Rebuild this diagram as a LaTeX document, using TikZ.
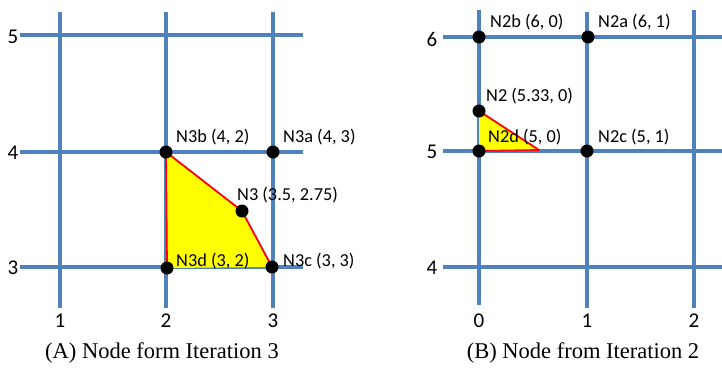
\documentclass[tikz,border=0pt]{standalone}
\usepackage{fontspec}
\setmainfont{Liberation Serif}
\newfontfamily\labelfont{Carlito}
\usepackage{tikz}
\usetikzlibrary{positioning,calc}
\definecolor{gridblue}{HTML}{4F81BD}
\definecolor{cellyellow}{HTML}{FFFF00}
\definecolor{celledge}{HTML}{FF0000}

\begin{document}
\begin{tikzpicture}[
  x=1pt, y=-1pt,
  gridline/.style={draw=gridblue, line width=3.2pt},
  nodedot/.style={circle, fill=black, minimum size=13pt, inner sep=0pt},
  ptlabel/.style={font=\labelfont\fontsize{18.3}{19}\selectfont, inner sep=0pt, anchor=west},
  ticklabel/.style={font=\labelfont\fontsize{21}{23}\selectfont, inner sep=0pt},
  caption/.style={font=\fontsize{22.5}{25}\selectfont, inner sep=0pt},
  cellfill/.style={fill=cellyellow},
  celloutline/.style={draw=celledge, line width=1.8pt, line join=round}
]
  \useasboundingbox (0,0) rectangle (722,373);

  % (A) iteration 3 grid
  \draw[gridline] (60,12) -- (60,308);
  \draw[gridline] (166,12) -- (166,308);
  \draw[gridline] (273,12) -- (273,308);
  \draw[gridline] (20,35) -- (303,35);
  \draw[gridline] (20,152) -- (303,152);
  \draw[gridline] (20,267) -- (303,267);
  \node[ticklabel] (ya5) at (13,37) {5};
  \node[ticklabel] (ya4) at (13,153) {4};
  \node[ticklabel] (ya3) at (13,268) {3};
  \node[ticklabel] (xa1) at (60,321) {1};
  \node[ticklabel] (xa2) at (166,321) {2};
  \node[ticklabel] (xa3) at (273,321) {3};

  \coordinate (p3b) at (166,152);
  \coordinate (p3a) at (273,152);
  \coordinate (p3) at (242,211);
  \coordinate (p3c) at (272,267);
  \coordinate (p3d) at (167,268);
  \fill[cellfill] (p3b) -- (p3) -- (p3c) -- (p3d) -- cycle;
  \draw[celloutline] (p3d) -- (p3b) -- (p3) -- (p3c);
  \node[nodedot] (n3b) at (p3b) {};
  \node[nodedot] (n3a) at (p3a) {};
  \node[nodedot] (n3) at (p3) {};
  \node[nodedot] (n3c) at (p3c) {};
  \node[nodedot] (n3d) at (p3d) {};
  \node[ptlabel] (l3b) at ([shift={(10,-15)}]n3b) {N3b (4, 2)};
  \node[ptlabel] (l3a) at ([shift={(10,-15)}]n3a) {N3a (4, 3)};
  \node[ptlabel] (l3) at ([shift={(-5,-16)}]n3) {N3 (3.5, 2.75)};
  \node[ptlabel] (l3d) at ([shift={(9,-7)}]n3d) {N3d (3, 2)};
  \node[ptlabel] (l3c) at ([shift={(11,-6)}]n3c) {N3c (3, 3)};
  \node[caption] (capa) at (162,353) {(A) Node form Iteration 3};

  % (B) iteration 2 grid
  \draw[gridline] (479,10) -- (479,305);
  \draw[gridline] (587,12) -- (587,308);
  \draw[gridline] (694,10) -- (694,308);
  \draw[gridline] (443,37) -- (722,37);
  \draw[gridline] (443,151) -- (722,151);
  \draw[gridline] (443,267) -- (722,267);
  \node[ticklabel] (yb6) at (432,39) {6};
  \node[ticklabel] (yb5) at (432,152) {5};
  \node[ticklabel] (yb4) at (432,268) {4};
  \node[ticklabel] (xb0) at (479,321) {0};
  \node[ticklabel] (xb1) at (587,321) {1};
  \node[ticklabel] (xb2) at (694,321) {2};

  \coordinate (p2b) at (479,37);
  \coordinate (p2a) at (588,37);
  \coordinate (p2) at (479,111);
  \coordinate (p2d) at (479,151);
  \coordinate (p2c) at (587,151);
  \coordinate (tip2) at (539,150);
  \fill[cellfill] (p2) -- (tip2) -- (p2d) -- cycle;
  \draw[celloutline] (p2) -- (tip2) -- (p2d);
  \node[nodedot] (n2b) at (p2b) {};
  \node[nodedot] (n2a) at (p2a) {};
  \node[nodedot] (n2) at (p2) {};
  \node[nodedot] (n2d) at (p2d) {};
  \node[nodedot] (n2c) at (p2c) {};
  \node[ptlabel] (l2b) at ([shift={(11,-15)}]n2b) {N2b (6, 0)};
  \node[ptlabel] (l2a) at ([shift={(10,-15)}]n2a) {N2a (6, 1)};
  \node[ptlabel] (l2) at ([shift={(7,-15)}]n2) {N2 (5.33, 0)};
  \node[ptlabel] (l2d) at ([shift={(9,-14)}]n2d) {N2d (5, 0)};
  \node[ptlabel] (l2c) at ([shift={(11,-14)}]n2c) {N2c (5, 1)};
  \node[caption] (capb) at (583,353) {(B) Node from Iteration 2};
\end{tikzpicture}
\end{document}
